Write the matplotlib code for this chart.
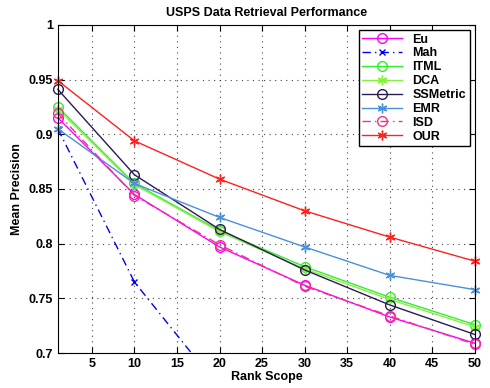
import matplotlib
matplotlib.use('Agg')
import matplotlib.pyplot as plt
import numpy as np

plt.rcParams['font.family'] = ['Liberation Sans', 'DejaVu Sans']
plt.rcParams['font.weight'] = 'bold'

rank = [1, 10, 20, 30, 40, 50]

eu = [0.915, 0.845, 0.797, 0.762, 0.733, 0.709]
mah = [0.905, 0.765, 0.668, 0.640, 0.620, 0.600]
itml = [0.925, 0.855, 0.812, 0.779, 0.751, 0.726]
dca = [0.923, 0.854, 0.811, 0.777, 0.749, 0.724]
ssmetric = [0.941, 0.863, 0.813, 0.776, 0.744, 0.717]
emr = [0.905, 0.855, 0.824, 0.797, 0.771, 0.758]
isd = [0.919, 0.844, 0.799, 0.761, 0.734, 0.708]
our = [0.949, 0.894, 0.859, 0.830, 0.806, 0.784]

fig = plt.figure(figsize=(4.9, 3.88), dpi=100)
ax = fig.add_axes([0.118, 0.090, 0.851, 0.846])

ms = 7
ast = (6, 2, 0)  # matlab-like asterisk
kw = dict(lw=1, clip_on=False)
ax.plot(rank, eu, '-o', color='#ff00ff', mfc='none', ms=ms, label='Eu', **kw)
ax.plot(rank, mah, color='#0000ff', ls=(0, (6, 3, 1, 3)), marker='x', ms=5, lw=1, label='Mah')
ax.plot(rank, itml, '-o', color='#33ee33', mfc='none', ms=ms, label='ITML', **kw)
ax.plot(rank, dca, '-', marker=ast, color='#88ee44', ms=ms, label='DCA', **kw)
ax.plot(rank, ssmetric, '-o', color='#2a1a55', mfc='none', ms=ms, label='SSMetric', **kw)
ax.plot(rank, emr, '-', marker=ast, color='#4a90d9', ms=ms, label='EMR', **kw)
ax.plot(rank, isd, color='#ee3388', ls=(0, (6, 3, 1, 3)), marker='o', mfc='none', ms=ms, label='ISD', **kw)
ax.plot(rank, our, '-', marker=ast, color='#ff2020', ms=ms, label='OUR', **kw)

ax.set_xlim(1, 50)
ax.set_ylim(0.7, 1)
ax.set_xticks(np.arange(5, 51, 5))
yt = [0.7, 0.75, 0.8, 0.85, 0.9, 0.95, 1]
ax.set_yticks(yt)
ax.set_yticklabels(['0.7', '0.75', '0.8', '0.85', '0.9', '0.95', '1'])
ax.tick_params(direction='in', labelsize=9, top=True, right=True, length=4)
ax.grid(True, linestyle=(0, (1, 4)), color='#444444', lw=0.8)

ax.set_title('USPS Data Retrieval Performance', fontsize=9, fontweight='bold', pad=6)
ax.set_xlabel('Rank Scope', fontsize=9, fontweight='bold', labelpad=1)
ax.set_ylabel('Mean Precision', fontsize=9, fontweight='bold')

leg = ax.legend(loc='upper right', fontsize=9, fancybox=False, edgecolor='black',
                framealpha=1, handlelength=3.2, borderpad=0.3, labelspacing=0.15,
                borderaxespad=0.4)
leg.get_frame().set_linewidth(1)
leg.set_zorder(5)

fig.savefig('out.png', dpi=100)
